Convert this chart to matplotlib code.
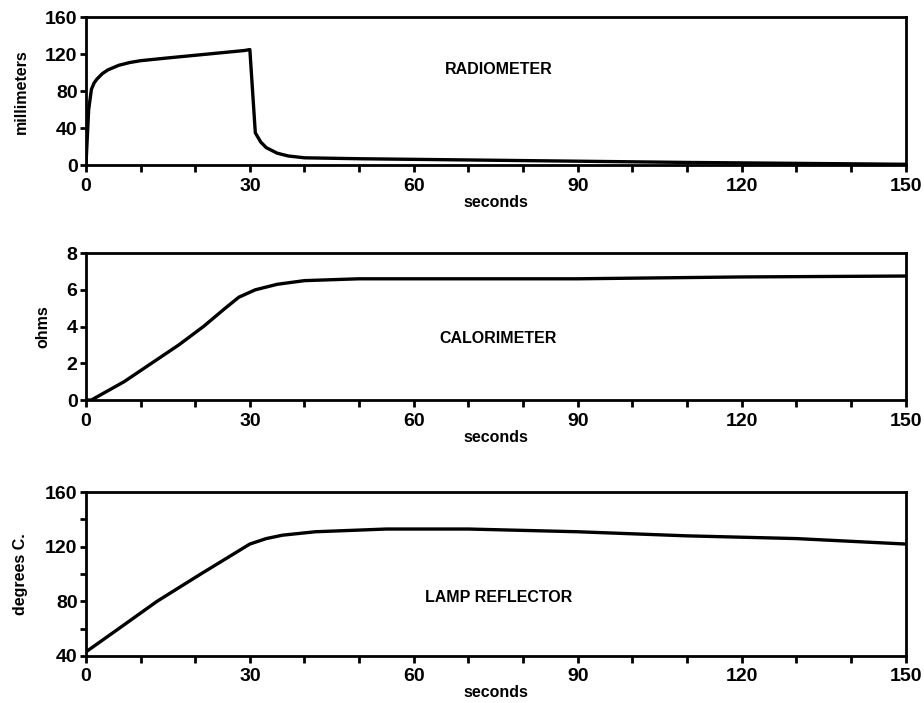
import matplotlib
matplotlib.use('Agg')
import matplotlib.pyplot as plt
import numpy as np

plt.rcParams['font.family'] = ['Liberation Sans', 'DejaVu Sans']
plt.rcParams['font.weight'] = 'bold'

# radiometer, millimeters vs seconds
rad_t = [0, 0.5, 1, 1.5, 2, 3, 4, 6, 8, 10, 15, 22, 29, 30, 30.5, 31, 32, 33, 35, 37, 40, 50, 80, 110, 150]
rad_v = [0, 60, 82, 89, 93, 99, 103, 108, 111, 113, 116, 120, 124, 125, 80, 35, 25, 19, 13, 10, 8, 7, 5, 3, 1]

# calorimeter, ohms vs seconds
cal_t = [0, 1, 4, 7, 12, 17, 21.5, 25.5, 28, 31, 35, 40, 50, 60, 90, 120, 150]
cal_v = [0, 0, 0.5, 1.0, 2.0, 3.0, 4.0, 5.0, 5.6, 6.0, 6.3, 6.5, 6.6, 6.6, 6.6, 6.7, 6.75]

# lamp reflector, degrees C vs seconds
lamp_t = [0, 6, 13, 21, 30, 33, 36, 42, 55, 70, 90, 110, 130, 150]
lamp_v = [43, 60, 80, 100, 122, 126, 128.5, 131, 133, 133, 131, 128, 126, 122]

panels = [
    (rad_t, rad_v, 'millimeters', (0, 160), [0, 40, 80, 120, 160], [], 'RADIOMETER', 103),
    (cal_t, cal_v, 'ohms', (0, 8), [0, 2, 4, 6, 8], [], 'CALORIMETER', 3.37),
    (lamp_t, lamp_v, 'degrees C.', (40, 160), [40, 80, 120, 160], [60, 100, 140], 'LAMP REFLECTOR', 83),
]
rects = [
    [0.093, 0.765, 0.887, 0.2105],
    [0.093, 0.431, 0.887, 0.209],
    [0.093, 0.0669, 0.887, 0.233],
]

fig = plt.figure(figsize=(9.24, 7.03), dpi=100)
for (t, v, ylab, ylim, yt, ymin, name, ny), r in zip(panels, rects):
    ax = fig.add_axes(r)
    ax.plot(t, v, color='black', lw=2.4, solid_joinstyle='round')
    ax.set_xlim(0, 150)
    ax.set_ylim(*ylim)
    ax.set_xticks([0, 30, 60, 90, 120, 150])
    ax.set_xticks(np.arange(0, 151, 10), minor=True)
    ax.set_yticks(yt)
    ax.set_yticks(ymin, minor=True)
    ax.tick_params(axis='x', which='both', direction='out', length=5, width=2,
                   top=False, labelsize=14, pad=4)
    ax.tick_params(axis='y', which='both', direction='out', length=4, width=2,
                   right=False, labelsize=14, pad=2)
    for s in ax.spines.values():
        s.set_linewidth(2)
    ax.set_xlabel('seconds', fontsize=11.5, fontweight='bold', labelpad=0)
    ax.set_ylabel(ylab, fontsize=11.5, fontweight='bold', labelpad=12)
    ax.text(75.5, ny, name, fontsize=11.5, fontweight='bold', ha='center', va='center')

fig.savefig('out.png', dpi=100)
